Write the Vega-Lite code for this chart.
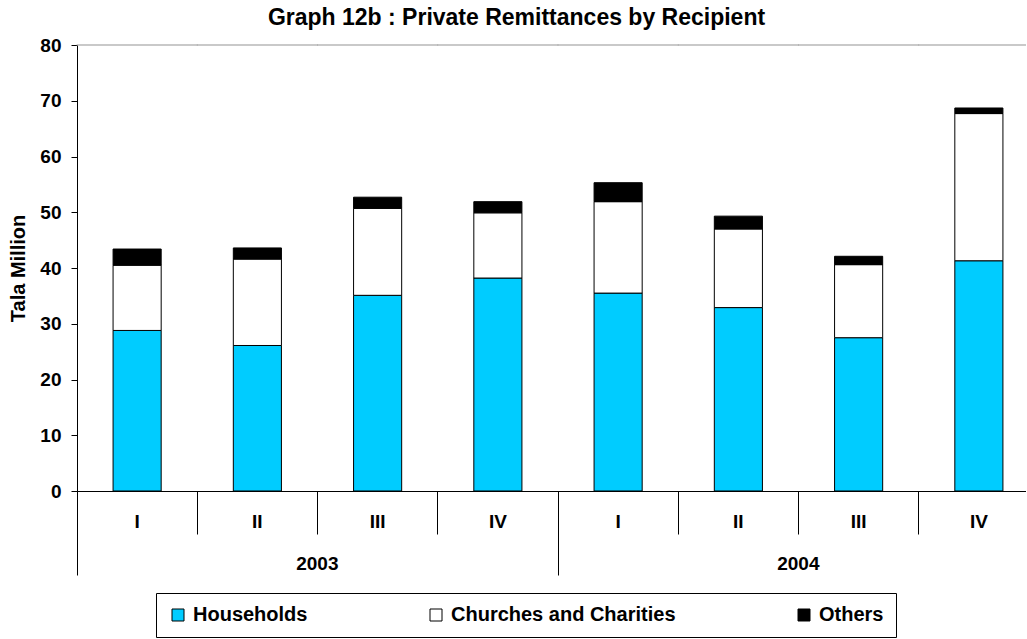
{
  "$schema": "https://vega.github.io/schema/vega-lite/v6.json",
  "width": 949,
  "height": 446,
  "autosize": {"type": "none"},
  "padding": {"left": 77, "top": 45, "right": 0, "bottom": 148},
  "background": "white",
  "config": {
    "font": "Liberation Sans",
    "view": {"stroke": null},
    "axis": {
      "labelFont": "Liberation Sans",
      "labelFontWeight": "bold",
      "labelColor": "black",
      "titleFont": "Liberation Sans",
      "titleFontWeight": "bold",
      "titleColor": "black",
      "domainColor": "black",
      "tickColor": "black",
      "grid": false
    }
  },
  "title": {
    "text": "Graph 12b : Private Remittances by Recipient",
    "fontSize": 23,
    "font": "Liberation Sans",
    "fontWeight": "bold",
    "color": "black",
    "anchor": "middle",
    "frame": "group",
    "dx": -35,
    "dy": 32,
    "baseline": "alphabetic",
    "offset": 20
  },
  "data": {
    "values": [
      {"period": "2003 I", "recipient": "Households", "value": 28.8},
      {"period": "2003 I", "recipient": "Churches and Charities", "value": 11.7},
      {"period": "2003 I", "recipient": "Others", "value": 2.9},
      {"period": "2003 II", "recipient": "Households", "value": 26.1},
      {"period": "2003 II", "recipient": "Churches and Charities", "value": 15.5},
      {"period": "2003 II", "recipient": "Others", "value": 2.0},
      {"period": "2003 III", "recipient": "Households", "value": 35.1},
      {"period": "2003 III", "recipient": "Churches and Charities", "value": 15.6},
      {"period": "2003 III", "recipient": "Others", "value": 2.0},
      {"period": "2003 IV", "recipient": "Households", "value": 38.2},
      {"period": "2003 IV", "recipient": "Churches and Charities", "value": 11.7},
      {"period": "2003 IV", "recipient": "Others", "value": 2.0},
      {"period": "2004 I", "recipient": "Households", "value": 35.5},
      {"period": "2004 I", "recipient": "Churches and Charities", "value": 16.4},
      {"period": "2004 I", "recipient": "Others", "value": 3.4},
      {"period": "2004 II", "recipient": "Households", "value": 32.9},
      {"period": "2004 II", "recipient": "Churches and Charities", "value": 14.1},
      {"period": "2004 II", "recipient": "Others", "value": 2.3},
      {"period": "2004 III", "recipient": "Households", "value": 27.5},
      {"period": "2004 III", "recipient": "Churches and Charities", "value": 13.1},
      {"period": "2004 III", "recipient": "Others", "value": 1.5},
      {"period": "2004 IV", "recipient": "Households", "value": 41.3},
      {"period": "2004 IV", "recipient": "Churches and Charities", "value": 26.4},
      {"period": "2004 IV", "recipient": "Others", "value": 1.0}
    ]
  },
  "layer": [
    {
      "transform": [
        {"calculate": "indexof(['Households', 'Churches and Charities', 'Others'], datum.recipient)", "as": "stackOrder"}
      ],
      "mark": {"type": "bar", "stroke": "black", "strokeWidth": 1, "width": {"band": 0.4}},
      "encoding": {
        "x": {
          "field": "period",
          "type": "nominal",
          "scale": {
            "domain": ["2003 I", "2003 II", "2003 III", "2003 IV", "2004 I", "2004 II", "2004 III", "2004 IV"],
            "range": [0, 962],
            "paddingInner": 0,
            "paddingOuter": 0
          },
          "axis": {
            "title": null,
            "orient": "bottom",
            "labelExpr": "split(datum.label, ' ')[1]",
            "bandPosition": 0,
            "tickSize": 43,
            "labelPadding": -13,
            "labelBaseline": "middle",
            "labelFontSize": 19,
            "labelAngle": 0
          }
        },
        "y": {
          "field": "value",
          "type": "quantitative",
          "stack": "zero",
          "scale": {"domain": [0, 80], "nice": false},
          "axis": {
            "title": "Tala Million",
            "values": [0, 10, 20, 30, 40, 50, 60, 70, 80],
            "tickSize": 6,
            "labelPadding": 10,
            "labelFontSize": 19,
            "titleFontSize": 20,
            "titleAngle": -90,
            "titleX": -59,
            "titleY": 223,
            "titleAlign": "center",
            "titleBaseline": "middle"
          }
        },
        "order": {"field": "stackOrder", "type": "quantitative", "sort": "ascending"},
        "color": {
          "field": "recipient",
          "type": "nominal",
          "sort": ["Households", "Churches and Charities", "Others"],
          "scale": {
            "domain": ["Households", "Churches and Charities", "Others"],
            "range": ["#00CCFF", "#FFFFFF", "#000000"]
          },
          "legend": {
            "orient": "none",
            "legendX": 79,
            "legendY": 548,
            "direction": "horizontal",
            "title": null,
            "symbolType": "square",
            "symbolSize": 144,
            "symbolStrokeColor": "black",
            "symbolStrokeWidth": 1,
            "symbolOpacity": 1,
            "labelFontSize": 20,
            "labelFont": "Liberation Sans",
            "labelFontWeight": "bold",
            "labelColor": "black",
            "labelLimit": 400,
            "columnPadding": 118,
            "labelOffset": 5,
            "strokeColor": "black",
            "padding": 12
          }
        }
      }
    },
    {
      "transform": [{"filter": "datum.recipient === 'Households'"}],
      "mark": {"type": "tick", "color": "#999999", "size": 121, "thickness": 1.5},
      "encoding": {
        "x": {
          "field": "period",
          "type": "nominal",
          "axis": {
            "title": null,
            "orient": "bottom",
            "values": ["2003 I", "2004 I"],
            "bandPosition": 0,
            "domain": false,
            "tickSize": 84,
            "labelPadding": -12,
            "labelBaseline": "middle",
            "labelFontSize": 19,
            "labelOffset": 180.25,
            "labelExpr": "slice(datum.label, 0, 4)",
            "labelAngle": 0
          }
        },
        "y": {"datum": 80, "type": "quantitative"}
      }
    }
  ],
  "resolve": {"axis": {"x": "independent"}}
}
